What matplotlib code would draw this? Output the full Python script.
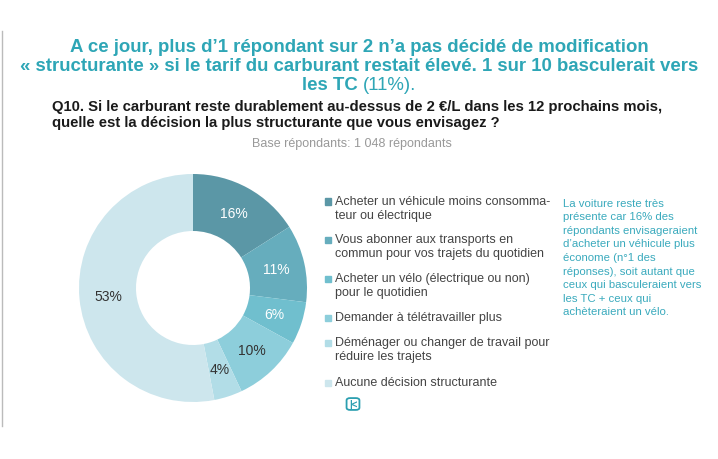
import numpy as np
import matplotlib.pyplot as plt
from matplotlib.patches import FancyBboxPatch

plt.rcParams['font.family'] = ['Liberation Sans', 'DejaVu Sans']

categories = [
    "Acheter un véhicule moins consomma-\nteur ou électrique",
    "Vous abonner aux transports en\ncommun pour vos trajets du quotidien",
    "Acheter un vélo (électrique ou non)\npour le quotidien",
    "Demander à télétravailler plus",
    "Déménager ou changer de travail pour\nréduire les trajets",
    "Aucune décision structurante",
]
values = [16, 11, 6, 10, 4, 53]
colors = ["#5b97a6", "#66adbd", "#70bfce", "#8dcedb", "#b2dde7", "#cde6ed"]
label_colors = ["white", "white", "white", "#333333", "#333333", "#333333"]

title_lines = [
    "A ce jour, plus d\u20191 répondant sur 2 n\u2019a pas décidé de modification",
    "« structurante » si le tarif du carburant restait élevé. 1 sur 10 basculerait vers",
]
question = ("Q10. Si le carburant reste durablement au-dessus de 2 \u20ac/L dans les 12 prochains mois,\n"
            "quelle est la décision la plus structurante que vous envisagez ?")
base_text = "Base répondants: 1 048 répondants"
note = ("La voiture reste très\nprésente car 16% des\nrépondants envisageraient\n"
        "d\u2019acheter un véhicule plus\néconome (n°1 des\nréponses), soit autant que\n"
        "ceux qui basculeraient vers\nles TC + ceux qui\nachèteraient un vélo.")

W, H = 718, 460
teal = "#2ea6b6"
title_fs = 13.4

fig = plt.figure(figsize=(7.18, 4.6), dpi=100)

def px(x, y):
    return x / W, 1 - y / H

# left border line
fig.add_artist(plt.Line2D([2 / W, 2 / W], [1 - 32 / H, 1 - 427 / H], color="#bbbbbb", lw=1))

# title
for i, line in enumerate(title_lines):
    fig.text(*px(359, 47 + i * 19.5), line, ha="center", va="center",
             fontsize=title_fs, fontweight="bold", color=teal)

fig.canvas.draw()
r = fig.canvas.get_renderer()
t1 = fig.text(0, 0, "les TC ", fontsize=title_fs, fontweight="bold", color=teal, va="center")
t2 = fig.text(0, 0, "(11%).", fontsize=title_fs, color=teal, va="center")
w1 = t1.get_window_extent(r).width
w2 = t2.get_window_extent(r).width
x0 = 359 - (w1 + w2) / 2
t1.set_position(px(x0, 86))
t2.set_position(px(x0 + w1, 86))

fig.text(*px(52, 115), question, ha="left", va="center", fontsize=10.7,
         fontweight="bold", color="#1a1a1a", linespacing=1.1)
fig.text(*px(352, 144), base_text, ha="center", va="center", fontsize=9, color="#999999")

# donut
cx, cy, rad = 193, 289, 114
ax = fig.add_axes([(cx - rad) / W, (H - cy - rad) / H, 2 * rad / W, 2 * rad / H])
wedges, _ = ax.pie(values, colors=colors, startangle=90, counterclock=False,
                   wedgeprops=dict(width=0.5, edgecolor="none"))
for w, v, lc in zip(wedges, values, label_colors):
    ang = np.deg2rad((w.theta1 + w.theta2) / 2)
    ax.text(0.75 * np.cos(ang), 0.75 * np.sin(ang), f"{v}%", ha="center", va="center",
            fontsize=10, color=lc)
ax.set_xlim(-1, 1)
ax.set_ylim(-1, 1)
ax.set_aspect("equal")
ax.axis("off")

# legend
leg_y = [209, 247, 286, 318, 350, 383]
for y, c, lab in zip(leg_y, colors, categories):
    nlines = lab.count("\n") + 1
    top = y - (nlines - 1) * 7
    fig.add_artist(plt.Rectangle(px(325, top + 3.5), 6 / W, 6 / H, color=c,
                                 transform=fig.transFigure))
    fig.text(*px(335, y), lab, ha="left", va="center", fontsize=9,
             color="#444444", linespacing=1.3)

# logo
fig.add_artist(FancyBboxPatch(px(348, 410), 10 / W, 10 / H,
                              boxstyle="round,pad=0.002,rounding_size=0.005",
                              transform=fig.transFigure, fill=False, ec="#2b9fb0", lw=1.3))
fig.text(*px(353, 405), "|<", ha="center", va="center", fontsize=7,
         fontweight="bold", color="#2b9fb0")

# side note
fig.text(*px(563, 258), note, ha="left", va="center", fontsize=8.2, color="#3aaabd",
         linespacing=1.44)

fig.savefig("out.png", dpi=100)
